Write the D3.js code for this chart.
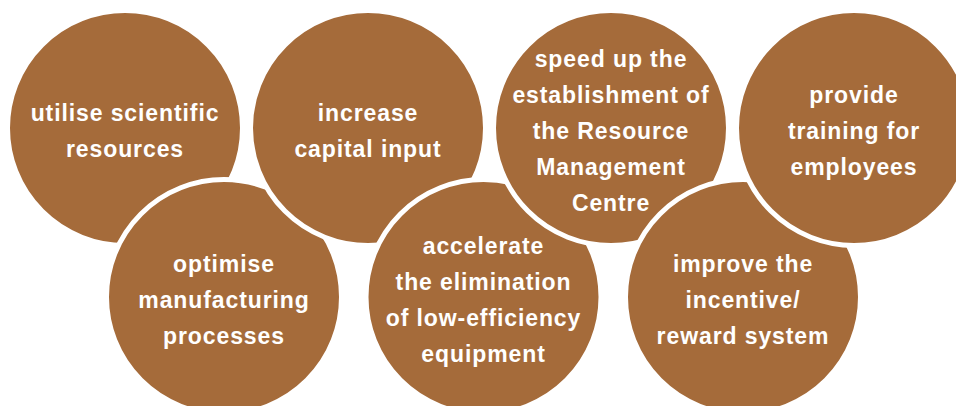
<!DOCTYPE html>
<html lang="en">
<head>
    <meta charset="UTF-8">
    <title>Measures</title>
    <script src="https://d3js.org/d3.v7.min.js"></script>
    <style>
        body {
            margin: 0;
            padding: 0;
            background: #ffffff;
            overflow: hidden;
        }

        .bubble-text {
            font-family: 'Liberation Sans', Arial, sans-serif;
            font-weight: bold;
            font-size: 23px;
            letter-spacing: 0.9px;
            fill: #ffffff;
            text-anchor: middle;
        }
    </style>
</head>
<body>
    <svg id="chart"></svg>

    <script>
        // 圆圈上的文字（上排 4 个，下排 3 个）
        const topLabels = [
            ["utilise scientific", "resources"],
            ["increase", "capital input"],
            ["speed up the", "establishment of", "the Resource", "Management", "Centre"],
            ["provide", "training for", "employees"]
        ];
        const bottomLabels = [
            ["optimise", "manufacturing", "processes"],
            ["accelerate", "the elimination", "of low-efficiency", "equipment"],
            ["improve the", "incentive/", "reward system"]
        ];
        const rows = ["top", "bottom"];

        const width = 956;
        const height = 406;
        const radius = 117.5;
        const lineHeight = 35.8;

        const svg = d3.select("#chart")
            .attr("width", width)
            .attr("height", height);

        // 比例尺
        const xTop = d3.scalePoint().domain(d3.range(topLabels.length)).range([125, 854]);
        const xBottom = d3.scalePoint().domain(d3.range(bottomLabels.length)).range([224, 743]);
        const yRow = d3.scalePoint().domain(rows).range([128, 297]);

        const topNodes = topLabels.map((lines, i) => ({ lines, x: xTop(i), y: yRow("top"), order: i * 2 }));
        const bottomNodes = bottomLabels.map((lines, i) => ({ lines, x: xBottom(i), y: yRow("bottom"), order: i * 2 + 1 }));

        // 交错叠放：上、下、上、下……
        const nodes = topNodes.concat(bottomNodes).sort((a, b) => a.order - b.order);

        const g = svg.selectAll(".bubble")
            .data(nodes)
            .join("g")
            .attr("class", "bubble")
            .attr("transform", d => `translate(${d.x},${d.y})`);

        g.append("circle")
            .attr("r", radius)
            .attr("fill", "#a56b3a")
            .attr("stroke", "#ffffff")
            .attr("stroke-width", 5);

        g.append("text")
            .attr("class", "bubble-text")
            .selectAll("tspan")
            .data(d => d.lines.map((t, i) => ({ t, i, n: d.lines.length })))
            .join("tspan")
            .attr("x", 0)
            .attr("y", d => 11 + (d.i - (d.n - 1) / 2) * lineHeight)
            .text(d => d.t);
    </script>
</body>
</html>
